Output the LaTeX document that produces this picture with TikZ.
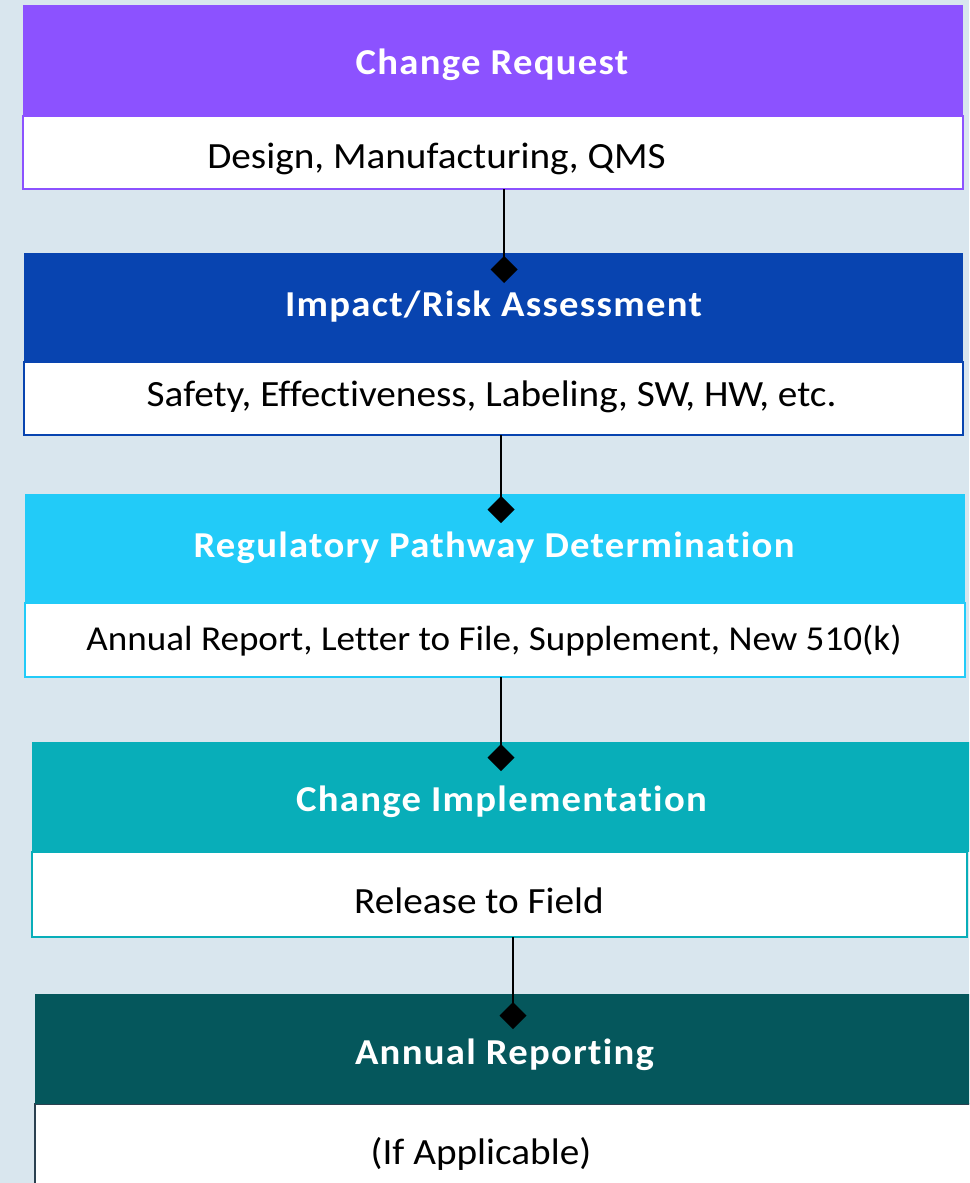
\documentclass[tikz,border=0pt]{standalone}
\usepackage{fontspec}
\setmainfont[Ligatures=NoCommon,FakeStretch=1.06]{Carlito}
\newfontfamily\headfont[Ligatures=NoCommon,FakeStretch=1.06,LetterSpace=3.5]{Carlito}
\usepackage{tikz}
\usetikzlibrary{calc}
\usetikzlibrary{arrows.meta}
\usetikzlibrary{positioning}
\definecolor{bgcol}{HTML}{D9E6EE}
\definecolor{reqcol}{HTML}{8C52FF}
\definecolor{impcol}{HTML}{0844B0}
\definecolor{regcol}{HTML}{22CBF8}
\definecolor{implcol}{HTML}{08AEB9}
\definecolor{repcol}{HTML}{05575C}
\definecolor{repline}{HTML}{2B4150}
\begin{document}
\begin{tikzpicture}[x=1pt,y=-1pt,
      head node/.style={fill=#1,minimum width=940pt,inner sep=0pt},
      body node/.style={draw=#1,line width=2pt,fill=white,inner sep=0pt},
      head text/.style={anchor=base,text=white,inner sep=0pt,font=\headfont\bfseries\fontsize{36.5}{42}\selectfont},
      body text/.style={anchor=base,inner sep=0pt,font=\fontsize{37}{44}\selectfont},
      link/.style={line width=2.8pt,-{Diamond[length=27pt,width=27pt]},shorten <=-1pt}]
    \fill[bgcol] (0,0) rectangle (969,1183);
    \clip (0,0) rectangle (969,1183);
    \node[body node=reqcol,minimum width=940pt,minimum height=73pt] (reqbody) at (493,152.5) {};
    \node[head node=reqcol,minimum height=111pt] (req) at (493,60.5) {};
    \node[head text] (reqtxt) at (492,74.3) {Change Request};
    \node[body text] (reqsub) at (436.5,168) {Design, Manufacturing, QMS};
    \node[body node=impcol,minimum width=939pt,minimum height=73pt] (impbody) at (493.5,398.5) {};
    \node[head node=impcol,minimum width=939pt,minimum height=109pt] (imp) at (493.5,307.5) {};
    \node[head text] (imptxt) at (493.5,316) {Impact/Risk Assessment};
    \node[body text] (impsub) at (491.5,406.7) {Safety, Effectiveness, Labeling, SW, HW, etc.};
    \node[body node=regcol,minimum width=940pt,minimum height=74pt] (regbody) at (495,640) {};
    \node[head node=regcol,minimum height=109pt] (reg) at (495,548.5) {};
    \node[head text] (regtxt) at (494,557.3) {Regulatory Pathway Determination};
    \node[body text,font=\fontsize{35}{42}\selectfont] (regsub) at (494,650.7) {Annual Report, Letter to File, Supplement, New 510(k)};
    \node[body node=implcol,minimum width=935pt,minimum height=85pt] (implbody) at (499.5,894.5) {};
    \node[head node=implcol,minimum width=943pt,minimum height=110pt] (impl) at (503.5,797) {};
    \node[head text] (impltxt) at (501.5,811.7) {Change Implementation};
    \node[body text] (implsub) at (479,913.3) {Release to Field};
    \node[body node=repline,minimum width=940pt,minimum height=90pt] (repbody) at (505,1149) {};
    \node[head node=repcol,minimum height=110pt] (rep) at (505,1049) {};
    \node[head text] (reptxt) at (504.5,1064.3) {Annual Reporting};
    \node[body text] (repsub) at (481,1164.3) {(If Applicable)};
    \coordinate (d1) at (504,283);
    \coordinate (d2) at (501,523);
    \coordinate (d3) at (501,771);
    \coordinate (d4) at (513,1029);
    \draw[link] (reqbody.south -| d1) -- (d1);
    \draw[link] (impbody.south -| d2) -- (d2);
    \draw[link] (regbody.south -| d3) -- (d3);
    \draw[link] (implbody.south -| d4) -- (d4);
  \end{tikzpicture}
\end{document}
